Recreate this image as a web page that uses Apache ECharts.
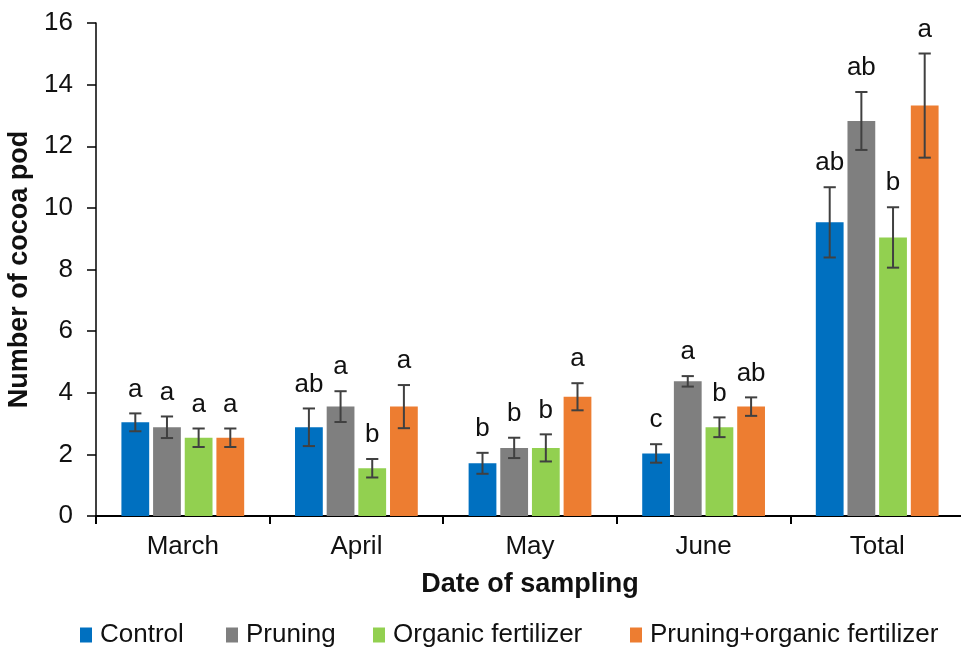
<!DOCTYPE html>
<html>
<head>
<meta charset="utf-8">
<script src="https://cdn.jsdelivr.net/npm/echarts@6/dist/echarts.min.js"></script>
<style>html,body{margin:0;padding:0;background:#fff}#c{width:961px;height:647px}</style>
</head>
<body>
<div id="c"></div>
<script>
const categories = ['March', 'April', 'May', 'June', 'Total'];
const seriesNames = ['Control', 'Pruning', 'Organic fertilizer', 'Pruning+organic fertilizer'];
const control = [3.04, 2.88, 1.71, 2.03, 9.53];
const pruning = [2.88, 3.55, 2.21, 4.37, 12.82];
const organic = [2.54, 1.55, 2.21, 2.88, 9.04];
const pruningOrganic = [2.54, 3.55, 3.87, 3.55, 13.32];
const controlErr = [0.29, 0.61, 0.34, 0.30, 1.14];
const pruningErr = [0.35, 0.50, 0.33, 0.17, 0.94];
const organicErr = [0.30, 0.30, 0.44, 0.32, 0.98];
const pruningOrganicErr = [0.30, 0.70, 0.44, 0.30, 1.69];
const controlLetters = ['a', 'ab', 'b', 'c', 'ab'];
const pruningLetters = ['a', 'a', 'b', 'a', 'ab'];
const organicLetters = ['a', 'b', 'b', 'b', 'b'];
const pruningOrganicLetters = ['a', 'a', 'a', 'ab', 'a'];
const yTicks = [0, 2, 4, 6, 8, 10, 12, 14, 16];

const values = [control, pruning, organic, pruningOrganic];
const errs = [controlErr, pruningErr, organicErr, pruningOrganicErr];
const letters = [controlLetters, pruningLetters, organicLetters, pruningOrganicLetters];
const colors = ['#0070C0', '#7F7F7F', '#92D050', '#ED7D31'];

const BAR_FRAC = 0.16, GAP_FRAC = 0.14;
const FONT = 'Liberation Sans, Arial, sans-serif';
const FS = 26;
const TFS = 27;

const chart = echarts.init(document.getElementById('c'), null, {renderer: 'canvas'});

const series = [];
values.forEach((vals, i) => {
  series.push({
    name: seriesNames[i], type: 'bar', data: vals,
    barWidth: (BAR_FRAC * 100) + '%', barGap: (GAP_FRAC * 100) + '%',
    itemStyle: {color: colors[i]}, silent: true
  });
});
values.forEach((vals, i) => {
  series.push({
    name: 'err' + i, type: 'custom', z: 5,
    data: vals.map((v, k) => [k, v, errs[i][k]]),
    encode: {x: 0, y: 1},
    renderItem: function (params, api) {
      const k = api.value(0), v = api.value(1), e = api.value(2);
      const band = api.size([1, 0])[0];
      const bw = band * BAR_FRAC;
      const step = bw * (1 + GAP_FRAC);
      const off = (i - 1.5) * step;
      const top = api.coord([k, v + e]);
      const bot = api.coord([k, v - e]);
      const cx = top[0] + off;
      const cap = bw * 0.22;
      const st = {stroke: '#404040', lineWidth: 2};
      return {type: 'group', children: [
        {type: 'line', shape: {x1: cx, y1: top[1], x2: cx, y2: bot[1]}, style: st},
        {type: 'line', shape: {x1: cx - cap, y1: top[1], x2: cx + cap, y2: top[1]}, style: st},
        {type: 'line', shape: {x1: cx - cap, y1: bot[1], x2: cx + cap, y2: bot[1]}, style: st},
        {type: 'text', x: cx, y: top[1] - 11, style: {text: letters[i][k], fill: '#111', font: FS + 'px ' + FONT, textAlign: 'center', textVerticalAlign: 'bottom'}}
      ]};
    }
  });
});

const legendLefts = [80, 226, 373, 630];
const legends = seriesNames.map((n, i) => ({
  data: [n], left: legendLefts[i], top: 622, itemWidth: 12, itemHeight: 15,
  icon: 'rect', itemGap: 0, selectedMode: false, padding: 0,
  textStyle: {fontSize: FS, fontFamily: FONT, color: '#111', padding: [0, 0, 0, 3]}
}));

chart.setOption({
  animation: false,
  backgroundColor: '#fff',
  grid: {left: 96, top: 23, width: 868, height: 493, containLabel: false, outerBoundsMode: 'none'},
  legend: legends,
  xAxis: {
    type: 'category', data: categories,
    name: 'Date of sampling', nameLocation: 'middle', nameGap: 55,
    nameTextStyle: {fontSize: TFS, fontWeight: 'bold', fontFamily: FONT, color: '#111'},
    axisLine: {lineStyle: {color: '#000', width: 2}},
    axisTick: {show: true, alignWithLabel: false, length: 8, lineStyle: {color: '#000', width: 2}},
    axisLabel: {fontSize: FS, fontFamily: FONT, color: '#111', margin: 18},
    splitLine: {show: false}
  },
  yAxis: {
    type: 'value', min: 0, max: 16, interval: 2,
    name: 'Number of cocoa pod', nameLocation: 'middle', nameGap: 57,
    nameTextStyle: {fontSize: TFS, fontWeight: 'bold', fontFamily: FONT, color: '#111'},
    axisLine: {show: true, lineStyle: {color: '#000', width: 1.5}},
    axisTick: {show: true, length: 9, lineStyle: {color: '#000', width: 1.5}},
    axisLabel: {fontSize: FS, fontFamily: FONT, color: '#111', margin: 23,
      formatter: v => yTicks.indexOf(v) >= 0 ? String(v) : ''},
    splitLine: {show: false}
  },
  series: series
});
</script>
</body>
</html>
